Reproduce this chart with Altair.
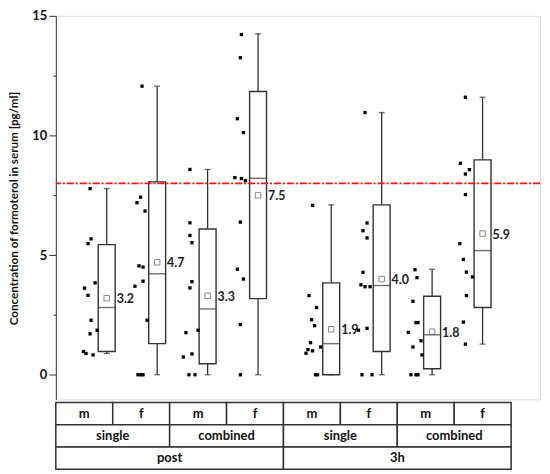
import pandas as pd
import altair as alt

FONT = "Lato"
INK = "#333333"
RED = "#ff1010"

# one box per group, groups in reading order of the table below the plot
groups = ["post single m", "post single f", "post combined m", "post combined f",
          "3h single m", "3h single f", "3h combined m", "3h combined f"]
slot = [1, 2, 3, 4, 5.45, 6.45, 7.45, 8.45]

whisk_lo = [0.89, 0.0, 0.0, 0.0, 0.0, 0.0, 0.0, 1.28]
q1       = [0.97, 1.30, 0.46, 3.18, 0.0, 0.97, 0.25, 2.81]
median   = [2.81, 4.22, 2.75, 8.21, 1.30, 3.73, 1.67, 5.19]
q3       = [5.44, 8.06, 6.09, 11.84, 3.84, 7.10, 3.28, 8.98]
whisk_hi = [7.78, 12.06, 8.58, 14.25, 7.10, 10.96, 4.41, 11.60]
mean     = [3.2, 4.7, 3.3, 7.5, 1.9, 4.0, 1.8, 5.9]

raw = [
    [7.78, 5.68, 5.48, 3.84, 3.62, 3.32, 2.28, 1.86, 1.71, 0.97, 0.89, 0.83],
    [12.06, 7.42, 7.19, 6.84, 4.55, 4.50, 3.91, 3.70, 2.28, 0.0, 0.0, 0.0],
    [8.58, 6.35, 5.82, 5.52, 3.89, 3.63, 1.86, 1.76, 0.87, 0.74, 0.0, 0.0],
    [14.22, 13.25, 10.70, 10.12, 8.24, 8.20, 8.11, 6.38, 4.41, 4.00, 2.10, 0.0],
    [7.08, 3.31, 2.81, 2.30, 2.05, 1.34, 1.16, 1.05, 1.00, 0.90, 0.0, 0.0],
    [10.96, 6.34, 6.02, 5.72, 4.28, 3.76, 3.68, 3.68, 1.94, 1.86, 0.0, 0.0],
    [4.39, 4.06, 3.07, 2.18, 2.18, 1.77, 1.42, 1.16, 0.83, 0.0, 0.0, 0.0],
    [11.60, 8.84, 8.57, 8.39, 7.53, 5.48, 4.82, 4.29, 4.09, 3.31, 2.20, 1.28],
]
# horizontal scatter of each dot left of its box (slot units), as read
jitter = [
    [-0.33, -0.31, -0.37, -0.23, -0.44, -0.37, -0.31, -0.19, -0.33, -0.46, -0.41, -0.27],
    [-0.30, -0.33, -0.40, -0.24, -0.36, -0.28, -0.28, -0.44, -0.20, -0.38, -0.32, -0.28],
    [-0.35, -0.35, -0.35, -0.31, -0.31, -0.35, -0.19, -0.43, -0.31, -0.48, -0.37, -0.25],
    [-0.33, -0.35, -0.41, -0.29, -0.46, -0.33, -0.25, -0.35, -0.41, -0.29, -0.35, -0.35],
    [-0.37, -0.44, -0.29, -0.39, -0.33, -0.41, -0.21, -0.46, -0.37, -0.50, -0.31, -0.27],
    [-0.33, -0.29, -0.37, -0.29, -0.37, -0.41, -0.33, -0.23, -0.29, -0.46, -0.39, -0.19],
    [-0.34, -0.30, -0.38, -0.32, -0.28, -0.47, -0.22, -0.38, -0.20, -0.42, -0.32, -0.28],
    [-0.34, -0.44, -0.26, -0.34, -0.34, -0.45, -0.38, -0.32, -0.20, -0.32, -0.38, -0.34],
]

threshold = [8.0]

sexes = ["m", "f"]
regimens = ["single", "combined"]
times = ["post", "3h"]
y_ticks = [0, 2.5, 5, 7.5, 10, 12.5, 15]


boxes = pd.DataFrame({
    "group": groups, "slot": slot, "lo": whisk_lo, "q1": q1,
    "median": median, "q3": q3, "hi": whisk_hi, "mean": mean,
})

dots = pd.DataFrame([
    {"group": g, "x": s + dx, "value": v}
    for g, s, vals, dxs in zip(groups, slot, raw, jitter)
    for v, dx in zip(vals, dxs)
])

x_scale = alt.Scale(domain=[0.09, 9.49], nice=False, zero=False)
y_scale = alt.Scale(domain=[-1.03, 15], nice=False, zero=False)

y_axis = alt.Axis(
    values=y_ticks,
    labelExpr="datum.value % 5 === 0 ? datum.label : ''",
    tickSize=alt.expr("datum.value % 5 === 0 ? 7 : 3"),
    labelPadding=2,
    title="Concentration of formoterol in serum [pg/ml]",
    titlePadding=12,
    titleY=193,
    grid=False,
    domainColor=INK,
    tickColor=INK,
    labelColor="#111111",
    titleColor="#111111",
    labelFont=FONT, titleFont=FONT,
    labelFontSize=13, titleFontSize=11.7,
    labelFontWeight="bold", titleFontWeight="bold",
)

base = alt.Chart(boxes)
X = alt.X("slot:Q", scale=x_scale, axis=None)

whiskers = base.mark_rule(color=INK, strokeWidth=1.3).encode(
    x=X,
    y=alt.Y("lo:Q", scale=y_scale, axis=y_axis),
    y2="hi:Q",
)

cap_lo = base.mark_tick(color=INK, orient="horizontal", size=6, thickness=1.3).encode(
    x=X, y="lo:Q"
)
cap_hi = base.mark_tick(color=INK, orient="horizontal", size=6, thickness=1.3).encode(
    x=X, y="hi:Q"
)

box = base.mark_bar(size=17, fill="white", stroke=INK, strokeWidth=1.4,
                    orient="vertical").encode(
    x=X, y="q1:Q", y2="q3:Q"
)

med = base.mark_tick(color=INK, orient="horizontal", size=17, thickness=1.4).encode(
    x=X, y="median:Q"
)

mean_pt = base.mark_point(shape="square", size=30, filled=False, color="#555555",
                          strokeWidth=1).encode(
    x=X, y="mean:Q"
)

mean_txt = base.mark_text(align="left", baseline="middle", dx=10, dy=1,
                          font=FONT, fontSize=12.5, fontWeight="bold",
                          color="#222222").encode(
    x=X, y="mean:Q", text=alt.Text("mean:Q", format=".1f")
)

points = alt.Chart(dots).mark_square(size=11, color="black", opacity=1).encode(
    x=alt.X("x:Q", scale=x_scale, axis=None),
    y="value:Q",
)

limit = alt.Chart(pd.DataFrame({"limit": threshold})).mark_rule(
    color=RED, strokeWidth=1.6, strokeDash=[7, 2, 2, 2]
).encode(y="limit:Q")

plot = alt.layer(
    whiskers, cap_lo, cap_hi, box, med, mean_pt, mean_txt, points, limit
).properties(width=486, height=385)


# category table under the plot
cells = []
for i in range(8):
    cells.append({"level": "sex", "label": sexes[i % 2], "start": i, "end": i + 1})
for i in range(4):
    cells.append({"level": "regimen", "label": regimens[i % 2], "start": 2 * i, "end": 2 * i + 2})
for i in range(2):
    cells.append({"level": "time", "label": times[i], "start": 4 * i, "end": 4 * i + 4})
cells = pd.DataFrame(cells)
cells["mid"] = (cells["start"] + cells["end"]) / 2

t_x = alt.Scale(domain=[0, 8], nice=False, zero=False)
t_y = alt.Scale(domain=["sex", "regimen", "time"], paddingInner=0, paddingOuter=0)

t_base = alt.Chart(cells)
t_rect = t_base.mark_rect(fill="white", stroke=INK, strokeWidth=1.5).encode(
    x=alt.X("start:Q", scale=t_x, axis=None),
    x2="end:Q",
    y=alt.Y("level:N", scale=t_y, axis=None),
)
t_text = t_base.mark_text(font=FONT, fontSize=13, fontWeight="bold",
                          color="#111111", baseline="middle").encode(
    x=alt.X("mid:Q", scale=t_x, axis=None),
    y=alt.Y("level:N", scale=t_y, axis=None),
    text="label:N",
)
table = alt.layer(t_rect, t_text).properties(width=457, height=67)

chart = (
    alt.vconcat(plot, table, spacing=0)
    .properties(padding={"left": 0, "top": 0, "right": 0, "bottom": 0})
    .configure_view(stroke=None)
    .configure(background="white")
)

chart.save("out.html", embed_options={"renderer": "svg", "actions": False})
